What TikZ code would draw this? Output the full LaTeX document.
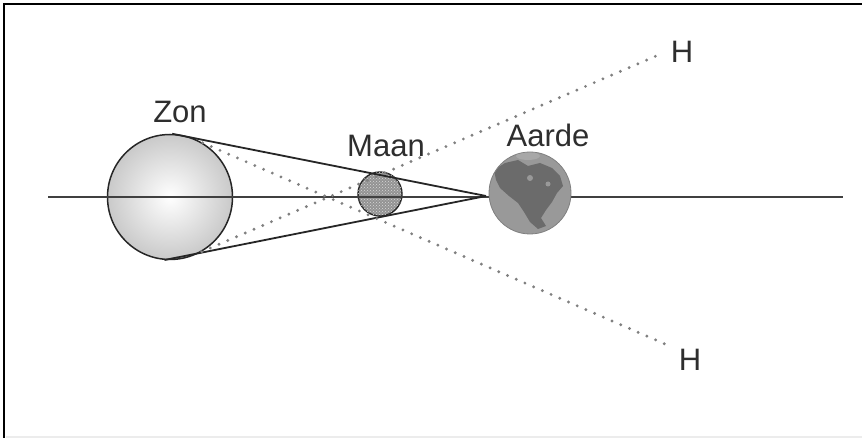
\documentclass[tikz,border=0pt]{standalone}
\usepackage{fontspec}
\setmainfont{Liberation Sans}
\usetikzlibrary{patterns}
\begin{document}
\begin{tikzpicture}[x=1pt,y=-1pt,
  label text/.style={font=\fontsize{31}{31}\selectfont, text=black!82, inner sep=0pt},
  ray/.style={draw=black!85, line width=1.8pt},
  sight/.style={draw=black!50, line width=3.2pt, line cap=round, dash pattern=on 0pt off 9.5pt},
  axis line/.style={draw=black!75, line width=1.9pt}
]
\useasboundingbox (0,0) rectangle (862,438);
\fill[white] (0,0) rectangle (862,438);

% frame
\draw[gray!15, line width=1.5pt] (6,437) -- (862,437);
\draw[black, line width=2pt] (4,438) -- (4,4) -- (862,4);

% bodies
\node[circle, minimum size=125pt, inner sep=0pt, draw=black!85, line width=1.5pt,
      inner color=white, outer color=gray!42] (zon) at (170,197) {};
\node[circle, minimum size=44pt, inner sep=0pt, fill=gray!85, draw=black!85, line width=1.4pt,
      postaction={pattern=crosshatch dots, pattern color=gray!30}] (maan) at (380,194) {};

% horizontal axis (passes over the sun and the moon, behind the earth)
\coordinate (axl) at (48,197);
\coordinate (axr) at (843,197);
\draw[axis line] (axl) -- (axr);

% earth with North America
\node[circle, minimum size=82pt, inner sep=0pt, fill=gray!80, draw=gray, line width=0.8pt] (aarde) at (530,193) {};
\begin{scope}
  \clip (aarde.center) circle (40.5pt);
  \fill[black!58]
    (494,170) -- (505,163) -- (518,160) -- (528,166) -- (540,163) -- (552,168)
    -- (560,176) -- (563,186) -- (557,193) -- (552,202) -- (546,210) -- (541,218)
    -- (546,226) -- (538,229) -- (530,222) -- (524,212) -- (518,203) -- (509,196) -- (500,188) -- (496,180) -- cycle;
  \fill[gray!80] (530,178) circle (3pt);
  \fill[gray!80] (548,184) circle (2.5pt);
  \fill[gray!68] (528,156) ellipse (12pt and 4pt);
\end{scope}

% cone apex and tangent rays
\coordinate (apex) at (486,196);
\draw[ray] (zon.88) -- (apex);
\draw[ray] (zon.265) -- (apex);

% labels
\node[label text, anchor=base] (tzon) at (180,123) {Zon};
\node[label text, anchor=base] (tmaan) at (386,157) {Maan};
\node[label text, anchor=base] (taarde) at (548,147) {Aarde};
\node[label text] (hboven) at (682,52) {H};
\node[label text] (honder) at (690,360) {H};

% dotted sight lines to the horizon
\coordinate (eindb) at (663,53);
\coordinate (eindo) at (665,344);
\draw[sight] (zon.-60) -- (eindb);
\draw[sight] (zon.59) -- (eindo);
\end{tikzpicture}
\end{document}
